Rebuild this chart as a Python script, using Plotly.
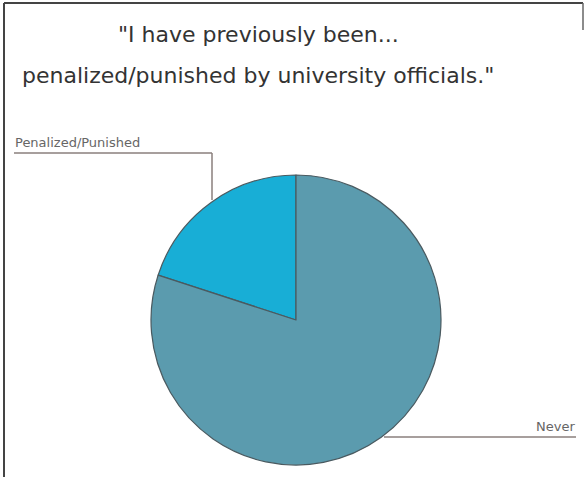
import plotly.graph_objects as go

labels = ["Penalized/Punished", "Never"]
values = [20, 80]
colors = ["#18AED6", "#5B9BAE"]
title_lines = ['"I have previously been...', 'penalized/punished by university officials."']

W, H = 586, 477
cx, cy, r = 296, 320, 145

fig = go.Figure(go.Pie(
    labels=labels, values=values, sort=False, direction="clockwise", rotation=-72,
    marker=dict(colors=colors, line=dict(color="#4a5a60", width=1.2)),
    textinfo="none", hoverinfo="label+percent", showlegend=False,
    domain=dict(x=[(cx - r) / W, (cx + r) / W], y=[(H - cy - r) / H, (H - cy + r) / H]),
))

def px(x):
    return x / W

def py(y):
    return 1 - y / H

shapes = [
    # frame
    dict(type="line", x0=px(4), x1=px(4), y0=py(3), y1=py(477), line=dict(color="#444", width=2)),
    dict(type="line", x0=px(4), x1=px(583), y0=py(3), y1=py(3), line=dict(color="#444", width=2)),
    dict(type="line", x0=px(583), x1=px(583), y0=py(3), y1=py(30), line=dict(color="#666", width=1.5)),
    # leader lines
    dict(type="line", x0=px(14), x1=px(212), y0=py(153), y1=py(153), line=dict(color="#8a7f7c", width=1.5)),
    dict(type="line", x0=px(212), x1=px(212), y0=py(153), y1=py(200), line=dict(color="#8a7f7c", width=1.5)),
    dict(type="line", x0=px(384), x1=px(576), y0=py(437), y1=py(437), line=dict(color="#8a7f7c", width=1.5)),
]
for s in shapes:
    s.update(xref="paper", yref="paper")

font_title = dict(family="DejaVu Sans", size=22, color="#333")
font_lbl = dict(family="DejaVu Sans", size=13, color="#666")
annotations = [
    dict(text=title_lines[0], x=px(258), y=py(49), xanchor="center", yanchor="bottom", font=font_title),
    dict(text=title_lines[1], x=px(258), y=py(90), xanchor="center", yanchor="bottom", font=font_title),
    dict(text=labels[0], x=px(13), y=py(152), xanchor="left", yanchor="bottom", font=font_lbl),
    dict(text=labels[1], x=px(577), y=py(436), xanchor="right", yanchor="bottom", font=font_lbl),
]
for a in annotations:
    a.update(xref="paper", yref="paper", showarrow=False)

fig.update_layout(
    width=W, height=H, margin=dict(l=0, r=0, t=0, b=0),
    paper_bgcolor="white", plot_bgcolor="white",
    shapes=shapes, annotations=annotations,
)
fig.write_html("out.html", config={"displayModeBar": False},
               post_script="document.body.style.margin='0';document.body.style.overflow='hidden';")
